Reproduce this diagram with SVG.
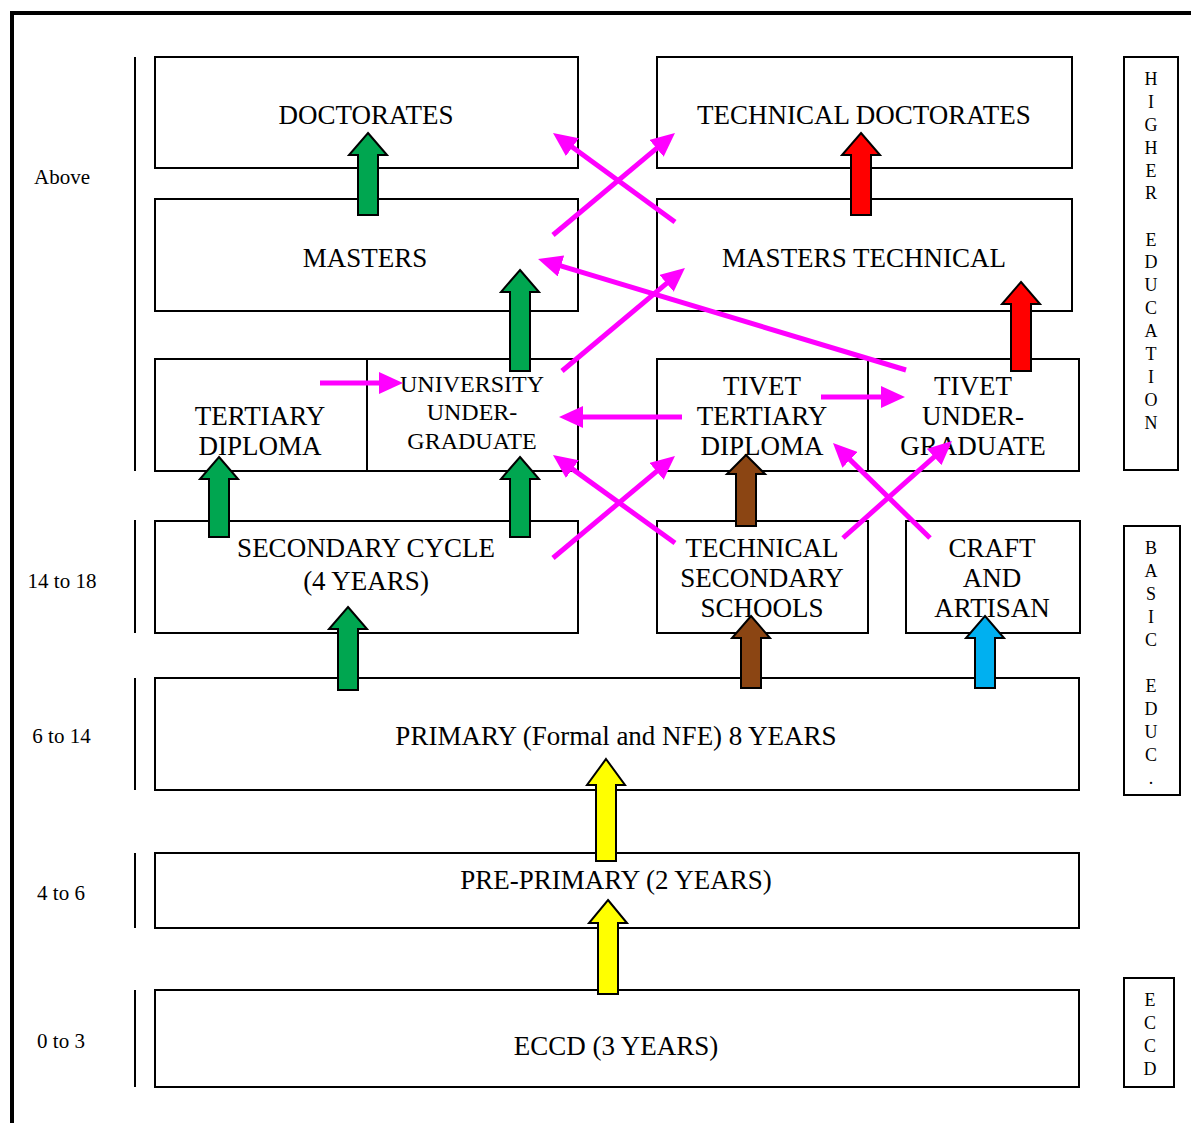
<svg xmlns="http://www.w3.org/2000/svg" width="1191" height="1123" viewBox="0 0 1191 1123">
<style>
.box{fill:#fff;stroke:#000;stroke-width:2}
.t{font-family:"Liberation Serif","Times New Roman",serif;font-size:27px;text-anchor:middle;fill:#000}
.ts{font-size:24px}
.lab{font-family:"Liberation Serif","Times New Roman",serif;font-size:21px;text-anchor:middle;fill:#000}
.v{font-family:"Liberation Serif","Times New Roman",serif;font-size:18px;text-anchor:middle;fill:#000}
.blk{stroke:#000;stroke-width:2;stroke-linejoin:miter}
.g{fill:#00A650}.r{fill:#FF0000}.b{fill:#8B4513}.c{fill:#00B0F0}.y{fill:#FFFF00}
.m{stroke:#FF00FF;stroke-width:5;fill:none;marker-end:url(#mh)}
.rule{stroke:#000;stroke-width:2}
</style>
<defs>
<marker id="mh" markerUnits="userSpaceOnUse" markerWidth="24" markerHeight="22" refX="2" refY="11" orient="auto" viewBox="0 0 24 22">
<path d="M0,0 L24,11 L0,22 z" fill="#FF00FF"/>
</marker>
</defs>
<rect width="1191" height="1123" fill="#fff"/>
<g id="frame">
<line x1="10" y1="13" x2="1191" y2="13" stroke="#000" stroke-width="4"/>
<line x1="12" y1="11" x2="12" y2="1123" stroke="#000" stroke-width="4"/>
<line class="rule" x1="135" y1="57" x2="135" y2="471"/>
<line class="rule" x1="135" y1="520" x2="135" y2="633"/>
<line class="rule" x1="135" y1="678" x2="135" y2="790"/>
<line class="rule" x1="135" y1="853" x2="135" y2="928"/>
<line class="rule" x1="135" y1="990" x2="135" y2="1087"/>
</g>
<g id="age-labels">
<text class="lab" x="62" y="184">Above</text>
<text class="lab" x="62" y="588">14 to 18</text>
<text class="lab" x="61.5" y="743">6 to 14</text>
<text class="lab" x="61" y="900">4 to 6</text>
<text class="lab" x="61" y="1048">0 to 3</text>
</g>
<g id="doctorates"><rect class="box" x="155" y="57" width="423" height="111"/></g>
<g id="tech-doctorates"><rect class="box" x="657" y="57" width="415" height="111"/></g>
<g id="masters"><rect class="box" x="155" y="199" width="423" height="112"/></g>
<g id="masters-technical"><rect class="box" x="657" y="199" width="415" height="112"/></g>
<g id="tertiary-diploma"><rect class="box" x="155" y="359" width="212" height="112"/></g>
<g id="university-undergraduate"><rect class="box" x="367" y="359" width="211" height="112"/></g>
<g id="tivet-tertiary"><rect class="box" x="657" y="359" width="211" height="112"/></g>
<g id="tivet-undergraduate"><rect class="box" x="868" y="359" width="211" height="112"/></g>
<g id="secondary-cycle"><rect class="box" x="155" y="521" width="423" height="112"/></g>
<g id="technical-secondary"><rect class="box" x="657" y="521" width="211" height="112"/></g>
<g id="craft-artisan"><rect class="box" x="906" y="521" width="174" height="112"/></g>
<g id="primary"><rect class="box" x="155" y="678" width="924" height="112"/></g>
<g id="pre-primary"><rect class="box" x="155" y="853" width="924" height="75"/></g>
<g id="eccd"><rect class="box" x="155" y="990" width="924" height="97"/></g>
<g id="higher-education-band"><rect class="box" x="1124" y="57" width="54" height="413"/>
<text class="v" x="1151" y="85">H</text><text class="v" x="1151" y="108">I</text><text class="v" x="1151" y="131">G</text><text class="v" x="1151" y="154">H</text><text class="v" x="1151" y="177">E</text><text class="v" x="1151" y="199">R</text>
<text class="v" x="1151" y="246">E</text><text class="v" x="1151" y="268">D</text><text class="v" x="1151" y="291">U</text><text class="v" x="1151" y="314">C</text><text class="v" x="1151" y="337">A</text><text class="v" x="1151" y="360">T</text><text class="v" x="1151" y="383">I</text><text class="v" x="1151" y="406">O</text><text class="v" x="1151" y="429">N</text>
</g>
<g id="basic-education-band"><rect class="box" x="1124" y="526" width="56" height="269"/>
<text class="v" x="1151" y="554">B</text><text class="v" x="1151" y="577">A</text><text class="v" x="1151" y="600">S</text><text class="v" x="1151" y="623">I</text><text class="v" x="1151" y="646">C</text>
<text class="v" x="1151" y="692">E</text><text class="v" x="1151" y="715">D</text><text class="v" x="1151" y="738">U</text><text class="v" x="1151" y="761">C</text><text class="v" x="1151" y="784">.</text>
</g>
<g id="eccd-band"><rect class="box" x="1124" y="978" width="50" height="109"/>
<text class="v" x="1150" y="1006">E</text><text class="v" x="1150" y="1029">C</text><text class="v" x="1150" y="1052">C</text><text class="v" x="1150" y="1075">D</text>
</g>
<g id="block-arrows" class="blk">
<polygon class="g" points="368,133 387,155 378,155 378,215 358,215 358,155 349,155"/>
<polygon class="r" points="861,133 880,155 871,155 871,215 851,215 851,155 842,155"/>
<polygon class="g" points="520,270 539,292 530,292 530,371 510,371 510,292 501,292"/>
<polygon class="r" points="1021,282 1040,304 1031,304 1031,371 1011,371 1011,304 1002,304"/>
<polygon class="g" points="219,457 238,479 229,479 229,537 209,537 209,479 200,479"/>
<polygon class="g" points="520,457 539,479 530,479 530,537 510,537 510,479 501,479"/>
<polygon class="g" points="348,607 367,629 358,629 358,690 338,690 338,629 329,629"/>
<polygon class="b" points="746,455 765,474 756,474 756,526 736,526 736,474 727,474"/>
<polygon class="b" points="751,616 770,638 761,638 761,688 741,688 741,638 732,638"/>
<polygon class="c" points="985,616 1004,638 995,638 995,688 975,688 975,638 966,638"/>
<polygon class="y" points="606,759 625,785 616,785 616,861 596,861 596,785 587,785"/>
<polygon class="y" points="608,900 627,923 618,923 618,994 598,994 598,923 589,923"/>
</g>
<g id="labels">
<text class="t" x="366" y="124">DOCTORATES</text>
<text class="t" x="864" y="124">TECHNICAL DOCTORATES</text>
<text class="t" x="365" y="267">MASTERS</text>
<text class="t" x="864" y="267">MASTERS TECHNICAL</text>
<text class="t" x="260" y="425">TERTIARY</text><text class="t" x="260" y="455">DIPLOMA</text>
<text class="t ts" x="472" y="392">UNIVERSITY</text><text class="t ts" x="472" y="420">UNDER-</text><text class="t ts" x="472" y="449">GRADUATE</text>
<text class="t" x="762" y="395">TIVET</text><text class="t" x="762" y="425">TERTIARY</text><text class="t" x="762" y="455">DIPLOMA</text>
<text class="t" x="973" y="395">TIVET</text><text class="t" x="973" y="425">UNDER-</text><text class="t" x="973" y="455">GRADUATE</text>
<text class="t" x="366" y="557">SECONDARY CYCLE</text><text class="t" x="366" y="590">(4 YEARS)</text>
<text class="t" x="762" y="557">TECHNICAL</text><text class="t" x="762" y="587">SECONDARY</text><text class="t" x="762" y="617">SCHOOLS</text>
<text class="t" x="992" y="557">CRAFT</text><text class="t" x="992" y="587">AND</text><text class="t" x="992" y="617">ARTISAN</text>
<text class="t" x="616" y="745">PRIMARY (Formal and NFE) 8 YEARS</text>
<text class="t" x="616" y="889">PRE-PRIMARY (2 YEARS)</text>
<text class="t" x="616" y="1055">ECCD (3 YEARS)</text>
</g>
<g id="connectors">
<line class="m" x1="553" y1="235" x2="658.1" y2="147.1"/>
<line class="m" x1="675" y1="222" x2="570.8" y2="146"/>
<line class="m" x1="906" y1="370" x2="559.1" y2="265.4"/>
<line class="m" x1="562" y1="371" x2="668.1" y2="282.1"/>
<line class="m" x1="320" y1="383" x2="381" y2="383"/>
<line class="m" x1="682" y1="417" x2="581" y2="417"/>
<line class="m" x1="821" y1="397" x2="883" y2="397"/>
<line class="m" x1="675" y1="543" x2="570.8" y2="467.9"/>
<line class="m" x1="553" y1="558" x2="658.1" y2="470.1"/>
<line class="m" x1="843" y1="538" x2="935.6" y2="455.6"/>
<line class="m" x1="930" y1="538" x2="848.7" y2="458.4"/>
</g>
</svg>
